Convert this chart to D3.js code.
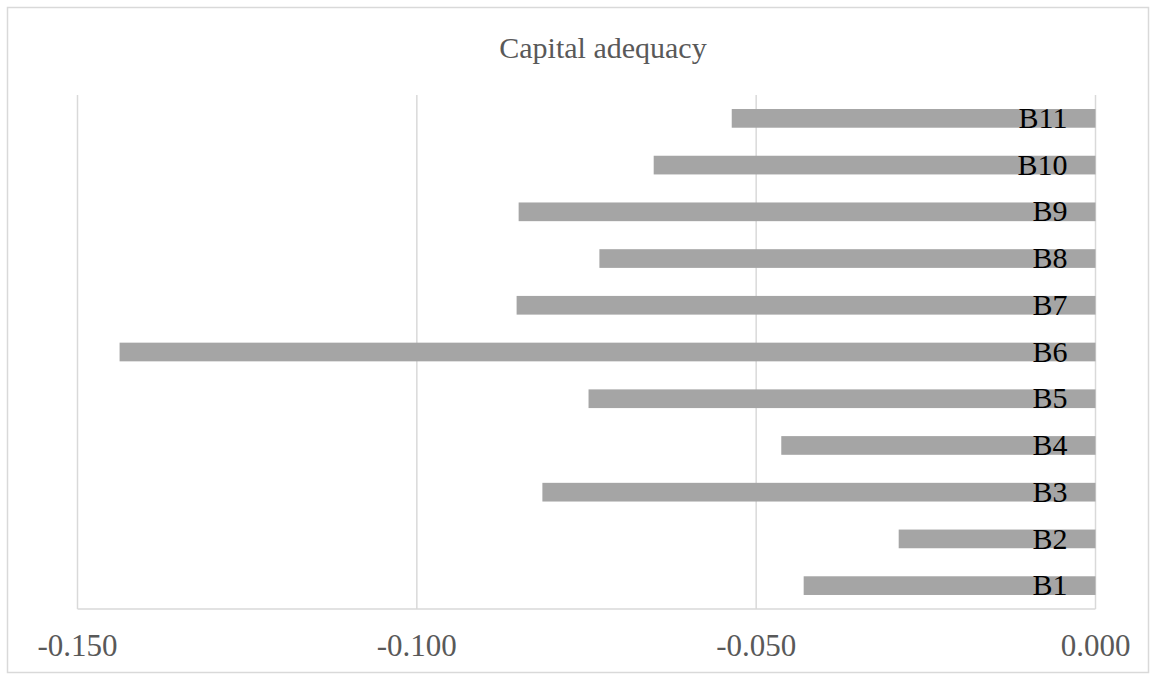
<!DOCTYPE html>
<html lang="en">
<head>
<meta charset="utf-8">
<title>Capital adequacy</title>
<script src="https://d3js.org/d3.v7.min.js"></script>
<style>
  body { margin: 0; background: #fff; }
  text { font-family: "Liberation Serif", "DejaVu Serif", serif; }
</style>
</head>
<body>
<script>
// data
var banks = ["B1", "B2", "B3", "B4", "B5", "B6", "B7", "B8", "B9", "B10", "B11"];
var values = [-0.0430, -0.0290, -0.0815, -0.0463, -0.0747, -0.1438, -0.0853, -0.0731, -0.0850, -0.0651, -0.0536];
var tickValues = [-0.150, -0.100, -0.050, 0.000];

var width = 1156, height = 680;
var plot = { left: 77.5, right: 1095.5, top: 95, bottom: 609 };

var svg = d3.select("body").append("svg")
    .attr("width", width)
    .attr("height", height);

// outer border
svg.append("rect")
    .attr("x", 7.5).attr("y", 7.5)
    .attr("width", 1141).attr("height", 665)
    .attr("fill", "#fff")
    .attr("stroke", "#d9d9d9")
    .attr("stroke-width", 1.5);

var x = d3.scaleLinear().domain([-0.150, 0]).range([plot.left, plot.right]);
var y = d3.scaleBand()
    .domain(banks.slice().reverse())
    .range([plot.top, plot.bottom])
    .paddingInner(0.6)
    .paddingOuter(0.3);

// gridlines
svg.append("g").selectAll("line")
    .data(tickValues)
    .enter().append("line")
    .attr("x1", function(d) { return x(d); })
    .attr("x2", function(d) { return x(d); })
    .attr("y1", plot.top)
    .attr("y2", plot.bottom)
    .attr("stroke", "#d9d9d9")
    .attr("stroke-width", 1.5);

// bottom axis line
svg.append("line")
    .attr("x1", plot.left).attr("x2", plot.right)
    .attr("y1", plot.bottom).attr("y2", plot.bottom)
    .attr("stroke", "#d9d9d9")
    .attr("stroke-width", 1.5);

// bars
var data = banks.map(function(b, i) { return { name: b, value: values[i] }; });

svg.append("g").selectAll("rect")
    .data(data)
    .enter().append("rect")
    .attr("x", function(d) { return x(d.value); })
    .attr("y", function(d) { return y(d.name); })
    .attr("width", function(d) { return x(0) - x(d.value); })
    .attr("height", y.bandwidth())
    .attr("fill", "#a5a5a5");

// category labels
svg.append("g").selectAll("text")
    .data(data)
    .enter().append("text")
    .attr("x", x(0) - 28)
    .attr("y", function(d) { return y(d.name) + y.bandwidth() / 2; })
    .attr("dy", "0.32em")
    .attr("text-anchor", "end")
    .style("font-size", "30px")
    .style("fill", "#000")
    .text(function(d) { return d.name; });

// tick labels
var fmt = d3.format(".3f");
svg.append("g").selectAll("text")
    .data(tickValues)
    .enter().append("text")
    .attr("x", function(d) { return x(d); })
    .attr("y", 656)
    .attr("text-anchor", "middle")
    .style("font-size", "31px")
    .style("fill", "#595959")
    .text(function(d) { return fmt(d).replace("−", "-"); });

// title
svg.append("text")
    .attr("x", 603)
    .attr("y", 58)
    .attr("text-anchor", "middle")
    .style("font-size", "30px")
    .style("fill", "#595959")
    .text("Capital adequacy");
</script>
</body>
</html>
